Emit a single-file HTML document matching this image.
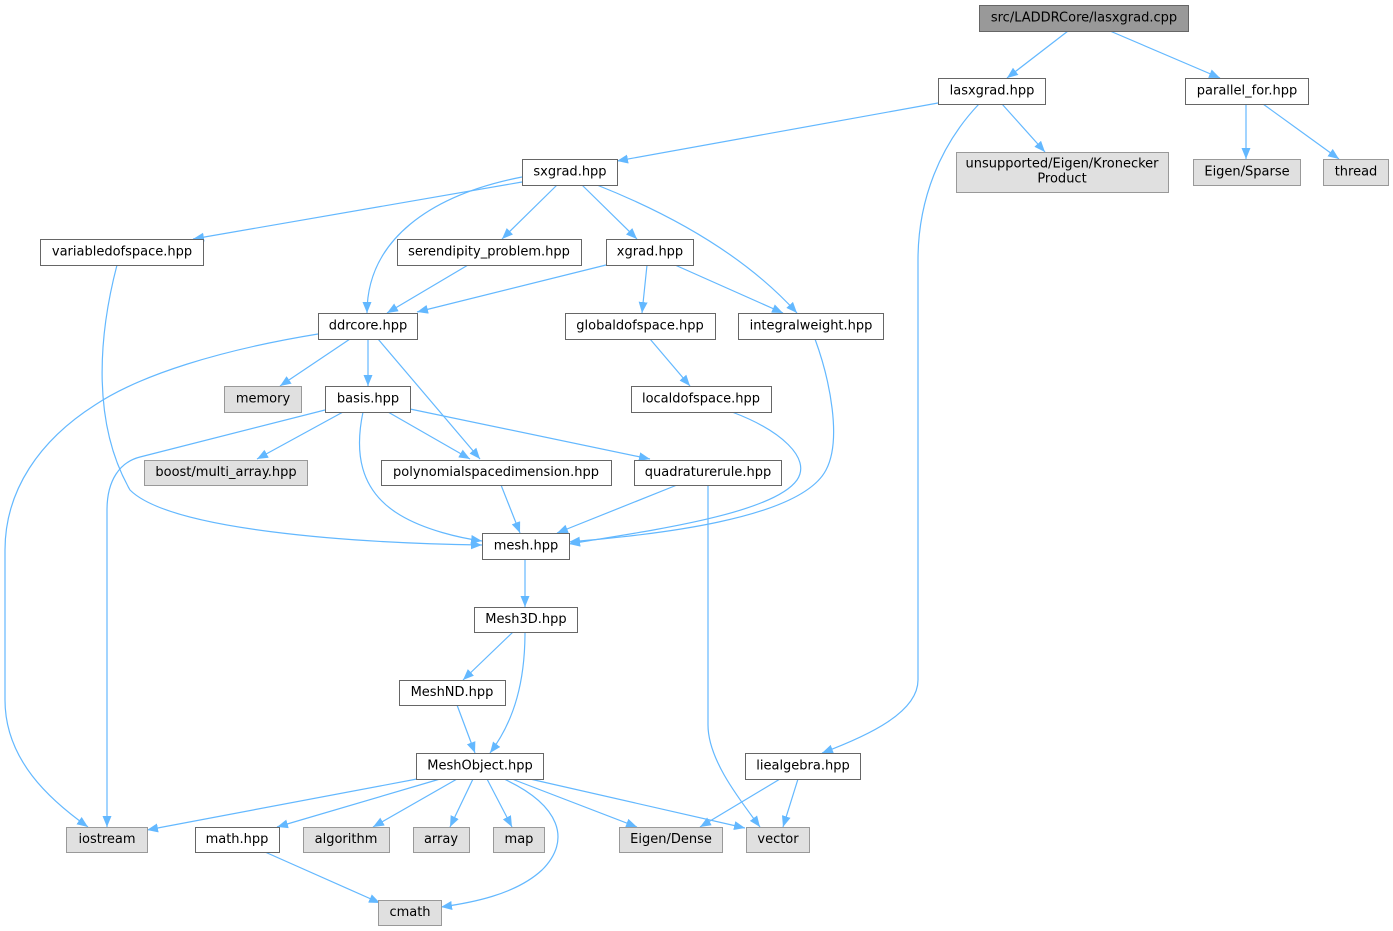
<!DOCTYPE html>
<html><head><meta charset="utf-8"><style>
html,body{margin:0;padding:0;background:#fff;}
svg{display:block;}
text{font-family:"DejaVu Sans","Liberation Sans",sans-serif;font-size:13px;fill:#000;}
.n{fill:#fff;stroke:#666;stroke-width:1;}
.e{fill:#e0e0e0;stroke:#999;stroke-width:1;}
.r{fill:#999;stroke:#666;stroke-width:1;}
.l{fill:none;stroke:#63b8ff;stroke-width:1.2;marker-end:url(#a);}
</style></head><body>
<svg width="1393" height="931" viewBox="0 0 1393 931" xmlns="http://www.w3.org/2000/svg">
<defs><marker id="a" markerUnits="userSpaceOnUse" markerWidth="12" markerHeight="10" refX="11" refY="4.5" orient="auto"><path d="M0,0 L11,4.5 L0,9 z" fill="#63b8ff"/></marker></defs>
<g>
<path class="l" d="M1068,31 L1007,78"/>
<path class="l" d="M1110,31 L1220,78"/>
<path class="l" d="M938,103 L617,161"/>
<path class="l" d="M1002,104 L1045,152"/>
<path class="l" d="M979,104 C940,145 918,200 918,260 L918,680 C918,712 870,735 822,753"/>
<path class="l" d="M1246,104 L1246,159"/>
<path class="l" d="M1263,104 L1339,159"/>
<path class="l" d="M522,182 L193,239"/>
<path class="l" d="M522,177 C430,195 367,240 367,313"/>
<path class="l" d="M557,185 L502,239"/>
<path class="l" d="M582,185 L637,239"/>
<path class="l" d="M597,185 C660,210 740,250 797,313"/>
<path class="l" d="M468,265 L387,313"/>
<path class="l" d="M606,265 L417,312"/>
<path class="l" d="M647,265 L642,313"/>
<path class="l" d="M675,265 L783,313"/>
<path class="l" d="M815,339 C830,380 842,440 826,470 C800,520 650,535 569,542"/>
<path class="l" d="M732,412 C780,430 812,458 797,480 C772,515 640,532 569,544"/>
<path class="l" d="M650,339 L690,386"/>
<path class="l" d="M318,334 C220,350 140,375 95,405 C40,440 5,490 5,550 L5,700 C5,760 50,800 88,827"/>
<path class="l" d="M350,339 L280,386"/>
<path class="l" d="M368,339 L368,386"/>
<path class="l" d="M378,339 L480,459"/>
<path class="l" d="M325,410 L140,457 C120,462 107,480 107,510 L107,827"/>
<path class="l" d="M343,412 L257,459"/>
<path class="l" d="M363,412 C355,450 358,490 400,515 C425,530 460,538 482,541"/>
<path class="l" d="M388,412 L470,459"/>
<path class="l" d="M410,409 L650,459"/>
<path class="l" d="M117,265 C100,330 90,420 130,490 C170,530 350,543 482,545"/>
<path class="l" d="M501,485 L520,533"/>
<path class="l" d="M677,485 L557,533"/>
<path class="l" d="M708,485 L708,725 C708,760 740,800 760,827"/>
<path class="l" d="M525,559 L525,607"/>
<path class="l" d="M513,632 L463,680"/>
<path class="l" d="M525,632 C525,680 515,720 490,753"/>
<path class="l" d="M457,705 L475,753"/>
<path class="l" d="M417,779 L147,830"/>
<path class="l" d="M440,779 L277,827"/>
<path class="l" d="M457,779 L373,827"/>
<path class="l" d="M473,779 L450,827"/>
<path class="l" d="M487,779 L512,827"/>
<path class="l" d="M504,779 C560,805 572,840 542,870 C515,895 470,903 441,907"/>
<path class="l" d="M512,779 L637,827"/>
<path class="l" d="M530,779 L745,828"/>
<path class="l" d="M780,779 L700,827"/>
<path class="l" d="M798,779 L783,827"/>
<path class="l" d="M265,852 L380,903"/>
</g>
<g>
<rect class="r" x="979.5" y="5.5" width="209" height="26"/><text x="1084" y="21.5" text-anchor="middle">src/LADDRCore/lasxgrad.cpp</text>
<rect class="n" x="938.5" y="78.5" width="107" height="26"/><text x="992" y="94.5" text-anchor="middle">lasxgrad.hpp</text>
<rect class="n" x="1185.5" y="78.5" width="123" height="26"/><text x="1247" y="94.5" text-anchor="middle">parallel_for.hpp</text>
<rect class="e" x="956.5" y="152.5" width="212" height="40"/><text x="1062" y="167.5" text-anchor="middle">unsupported/Eigen/Kronecker</text><text x="1062" y="182.5" text-anchor="middle">Product</text>
<rect class="e" x="1193.5" y="159.5" width="107" height="26"/><text x="1247" y="175.5" text-anchor="middle">Eigen/Sparse</text>
<rect class="e" x="1323.5" y="159.5" width="65" height="26"/><text x="1356" y="175.5" text-anchor="middle">thread</text>
<rect class="n" x="522.5" y="159.5" width="95" height="26"/><text x="570" y="175.5" text-anchor="middle">sxgrad.hpp</text>
<rect class="n" x="40.5" y="239.5" width="163" height="26"/><text x="122" y="255.5" text-anchor="middle">variabledofspace.hpp</text>
<rect class="n" x="397.5" y="239.5" width="184" height="26"/><text x="489" y="255.5" text-anchor="middle">serendipity_problem.hpp</text>
<rect class="n" x="606.5" y="239.5" width="87" height="26"/><text x="650" y="255.5" text-anchor="middle">xgrad.hpp</text>
<rect class="n" x="318.5" y="313.5" width="99" height="26"/><text x="368" y="329.5" text-anchor="middle">ddrcore.hpp</text>
<rect class="n" x="565.5" y="313.5" width="150" height="26"/><text x="640" y="329.5" text-anchor="middle">globaldofspace.hpp</text>
<rect class="n" x="738.5" y="313.5" width="145" height="26"/><text x="811" y="329.5" text-anchor="middle">integralweight.hpp</text>
<rect class="e" x="224.5" y="386.5" width="77" height="26"/><text x="263" y="402.5" text-anchor="middle">memory</text>
<rect class="n" x="325.5" y="386.5" width="85" height="26"/><text x="368" y="402.5" text-anchor="middle">basis.hpp</text>
<rect class="n" x="631.5" y="386.5" width="140" height="26"/><text x="701" y="402.5" text-anchor="middle">localdofspace.hpp</text>
<rect class="e" x="144.5" y="460.5" width="163" height="25"/><text x="226" y="476" text-anchor="middle">boost/multi_array.hpp</text>
<rect class="n" x="381.5" y="460.5" width="230" height="25"/><text x="496" y="476" text-anchor="middle">polynomialspacedimension.hpp</text>
<rect class="n" x="634.5" y="460.5" width="147" height="25"/><text x="708" y="476" text-anchor="middle">quadraturerule.hpp</text>
<rect class="n" x="482.5" y="533.5" width="87" height="26"/><text x="526" y="549.5" text-anchor="middle">mesh.hpp</text>
<rect class="n" x="474.5" y="607.5" width="103" height="25"/><text x="526" y="623" text-anchor="middle">Mesh3D.hpp</text>
<rect class="n" x="399.5" y="680.5" width="106" height="25"/><text x="452" y="696" text-anchor="middle">MeshND.hpp</text>
<rect class="n" x="416.5" y="753.5" width="127" height="26"/><text x="480" y="769.5" text-anchor="middle">MeshObject.hpp</text>
<rect class="n" x="745.5" y="753.5" width="115" height="26"/><text x="803" y="769.5" text-anchor="middle">liealgebra.hpp</text>
<rect class="e" x="66.5" y="827.5" width="81" height="25"/><text x="107" y="843" text-anchor="middle">iostream</text>
<rect class="n" x="195.5" y="827.5" width="84" height="25"/><text x="237" y="843" text-anchor="middle">math.hpp</text>
<rect class="e" x="303.5" y="827.5" width="86" height="25"/><text x="346" y="843" text-anchor="middle">algorithm</text>
<rect class="e" x="413.5" y="827.5" width="56" height="25"/><text x="441" y="843" text-anchor="middle">array</text>
<rect class="e" x="493.5" y="827.5" width="51" height="25"/><text x="519" y="843" text-anchor="middle">map</text>
<rect class="e" x="619.5" y="827.5" width="103" height="25"/><text x="671" y="843" text-anchor="middle">Eigen/Dense</text>
<rect class="e" x="746.5" y="827.5" width="63" height="25"/><text x="778" y="843" text-anchor="middle">vector</text>
<rect class="e" x="378.5" y="900.5" width="63" height="25"/><text x="410" y="916" text-anchor="middle">cmath</text>
</g>
</svg>
</body></html>
